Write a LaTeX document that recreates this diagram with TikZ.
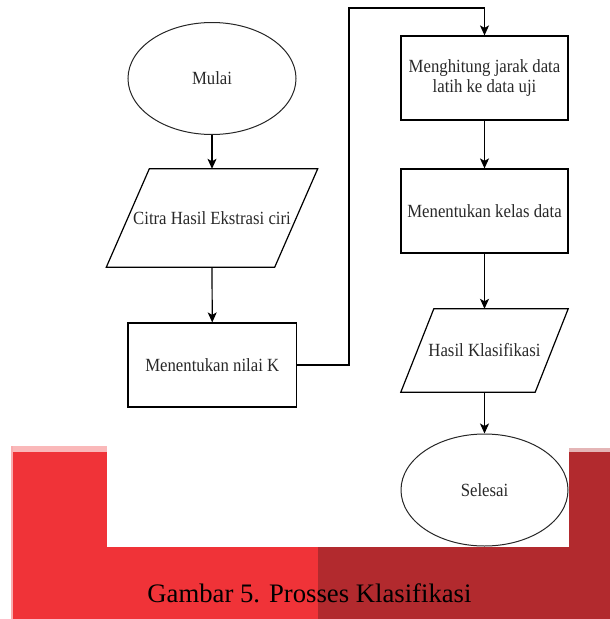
\documentclass[tikz,border=0pt]{standalone}
\usepackage{fontspec}
\setmainfont{Liberation Serif}
\newfontfamily\diagfont[FakeStretch=0.9]{Liberation Serif}
\usetikzlibrary{arrows.meta,shapes.geometric}
\definecolor{redA}{RGB}{240,51,56}
\definecolor{redB}{RGB}{178,42,46}
\definecolor{txt}{RGB}{40,40,40}
\begin{document}
\begin{tikzpicture}[x=1pt,y=-1pt,
  line/.style={draw=black,line width=1.2pt},
  arr/.style={line,-{Stealth[length=10pt,width=9pt,inset=2.5pt]}},
  lbl/.style={font=\diagfont\fontsize{18.6}{20}\selectfont,text=txt,align=center,inner sep=0pt},
  oval/.style={ellipse,draw=black!85,line width=1pt,lbl,minimum width=168pt,minimum height=112pt},
  box/.style={rectangle,draw=black,line width=1.2pt,lbl},
  io/.style={rectangle,lbl}]
\useasboundingbox (0,0) rectangle (610,619);
% background band
\fill[redA!35] (11,446) rectangle (107,452);
\fill[redB!35] (569,448) rectangle (610,452);
\fill[redA] (13,452) rectangle (318,619);
\fill[redA!40] (11,446) rectangle (13,619);
\fill[redB] (318,452) rectangle (610,619);
\fill[white] (107,440) rectangle (569,547);
% left column
\node[oval] (mulai) at (212,78.5) {Mulai};
\node[io,minimum width=168pt,minimum height=98pt] (citra) at (212,218) {Citra Hasil Ekstrasi ciri};
\draw[line] ([xshift=21.5pt]citra.north west) -- ([xshift=21.5pt]citra.north east)
  -- ([xshift=-21.5pt]citra.south east) -- ([xshift=-21.5pt]citra.south west) -- cycle;
\node[box,minimum width=168.5pt,minimum height=84pt] (nilaik) at (212.25,365) {Menentukan nilai K};
% right column
\node[box,minimum width=167pt,minimum height=84pt] (hitung) at (484.5,78) {Menghitung jarak data\\latih ke data uji};
\node[box,minimum width=167pt,minimum height=84pt] (kelas) at (484.5,211) {Menentukan kelas data};
\node[io,minimum width=134pt,minimum height=83pt] (hasil) at (484.5,350.5) {Hasil Klasifikasi};
\draw[line] ([xshift=16.5pt]hasil.north west) -- ([xshift=16.5pt]hasil.north east)
  -- ([xshift=-16.5pt]hasil.south east) -- ([xshift=-16.5pt]hasil.south west) -- cycle;
\node[oval,minimum width=167pt] (selesai) at (484.5,490) {Selesai};
% connectors
\coordinate (loop) at (349,8);
\draw[arr] (mulai.south) -- (citra.north);
\draw[arr] (citra.south) -- (nilaik.north);
\draw[arr] (nilaik.east) -| (loop) -| (hitung.north);
\draw[arr] (hitung.south) -- (kelas.north);
\draw[arr] (kelas.south) -- (hasil.north);
\draw[arr] (hasil.south) -- (selesai.north);
% caption
\node[font=\fontsize{26.7}{30}\selectfont,anchor=base,inner sep=0pt] (cap) at (309.5,602) {Gambar 5. Prosses Klasifikasi};
\end{tikzpicture}
\end{document}
